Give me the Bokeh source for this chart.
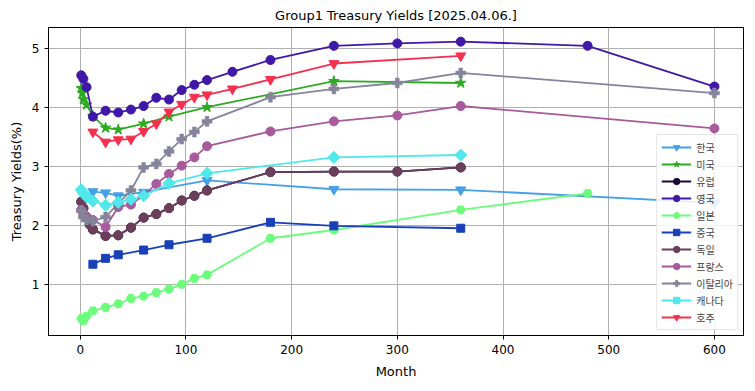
import math
from bokeh.plotting import figure
from bokeh.models import Legend, LegendItem, FixedTicker
from bokeh.embed import file_html
from bokeh.resources import INLINE

# ---------------- data (months to maturity, yield %) ----------------
kr_m = [12, 24, 36, 60, 120, 240, 360, 600]
kr_y = [2.58, 2.56, 2.51, 2.57, 2.77, 2.62, 2.61, 2.39]

us_m = [1, 2, 3, 6, 12, 24, 36, 60, 84, 120, 240, 360]
us_y = [4.33, 4.25, 4.14, 4.05, 3.86, 3.66, 3.63, 3.73, 3.85, 4.01, 4.45, 4.42]

eu_m = [1, 3, 6, 9, 12, 24, 36, 48, 60, 72, 84, 96, 108, 120, 180, 240, 300, 360]
eu_y = [2.41, 2.30, 2.15, 2.02, 1.94, 1.83, 1.84, 1.97, 2.14, 2.20, 2.30, 2.43, 2.51, 2.60, 2.91, 2.92, 2.92, 2.99]

uk_m = [1, 3, 6, 12, 24, 36, 48, 60, 72, 84, 96, 108, 120, 144, 180, 240, 300, 360, 480, 600]
uk_y = [4.55, 4.49, 4.35, 3.85, 3.95, 3.92, 3.97, 4.03, 4.17, 4.14, 4.30, 4.39, 4.47, 4.61, 4.81, 5.05, 5.09, 5.12, 5.05, 4.36]

jp_m = [1, 3, 6, 12, 24, 36, 48, 60, 72, 84, 96, 108, 120, 180, 240, 360, 480]
jp_y = [0.43, 0.39, 0.47, 0.56, 0.62, 0.68, 0.77, 0.81, 0.87, 0.93, 1.01, 1.11, 1.17, 1.79, 1.93, 2.27, 2.55]

cn_m = [12, 24, 36, 60, 84, 120, 180, 240, 360]
cn_y = [1.35, 1.45, 1.51, 1.59, 1.68, 1.79, 2.06, 2.00, 1.96]

de_m = [1, 3, 6, 9, 12, 24, 36, 48, 60, 72, 84, 96, 108, 120, 180, 240, 300, 360]
de_y = [2.41, 2.30, 2.15, 2.02, 1.94, 1.83, 1.84, 1.97, 2.14, 2.20, 2.30, 2.43, 2.51, 2.60, 2.91, 2.92, 2.92, 2.99]

fr_m = [1, 3, 6, 12, 24, 36, 48, 60, 72, 84, 96, 108, 120, 180, 240, 300, 360, 600]
fr_y = [2.27, 2.20, 2.15, 2.10, 1.98, 2.32, 2.36, 2.52, 2.71, 2.88, 3.02, 3.16, 3.35, 3.60, 3.77, 3.87, 4.03, 3.65]

it_m = [1, 3, 6, 12, 24, 36, 48, 60, 72, 84, 96, 108, 120, 180, 240, 300, 360, 600]
it_y = [2.26, 2.15, 2.10, 2.08, 2.15, 2.38, 2.60, 2.99, 3.05, 3.26, 3.47, 3.59, 3.77, 4.18, 4.32, 4.42, 4.59, 4.25]

ca_m = [1, 3, 6, 12, 24, 36, 48, 60, 84, 120, 240, 360]
ca_y = [2.61, 2.55, 2.49, 2.42, 2.35, 2.40, 2.45, 2.51, 2.72, 2.89, 3.16, 3.20]

au_m = [12, 24, 36, 48, 60, 72, 84, 96, 108, 120, 144, 180, 240, 360]
au_y = [3.59, 3.42, 3.46, 3.47, 3.60, 3.73, 3.93, 4.06, 4.18, 4.22, 4.32, 4.48, 4.75, 4.88]

names = ["한국", "미국", "유럽", "영국", "일본", "중국", "독일", "프랑스", "이탈리아", "캐나다", "호주"]
x_ticks = [0, 100, 200, 300, 400, 500, 600]
y_ticks = [1, 2, 3, 4, 5]

series = [
    (kr_m, kr_y, "#45a0e6", "inverted_triangle", 10, 0),
    (us_m, us_y, "#2eaa22", "star", 11, 0),
    (eu_m, eu_y, "#1a0838", "circle", 9, 0),
    (uk_m, uk_y, "#4018a8", "circle", 9, 0),
    (jp_m, jp_y, "#6cfc7c", "hex", 9, 0),
    (cn_m, cn_y, "#1a40b8", "square", 8, 0),
    (de_m, de_y, "#6b3f5a", "circle", 9, 0),
    (fr_m, fr_y, "#a85a9c", "circle", 9, 0),
    (it_m, it_y, "#85849a", "plus", 10, 0),
    (ca_m, ca_y, "#50e8ea", "square", 8.5, 45),
    (au_m, au_y, "#f5304f", "inverted_triangle", 10, 0),
]

p = figure(
    frame_width=695, frame_height=308,
    x_range=(-30, 627.5), y_range=(0.143, 5.36),
    output_backend="svg", toolbar_location=None,
    min_border_left=48, min_border_right=4, min_border_top=27, min_border_bottom=40,
    title="Group1 Treasury Yields [2025.04.06.]",
)
p.title.align = "center"
p.title.text_font = "DejaVu Sans"
p.title.text_font_size = "13px"
p.title.text_font_style = "normal"
p.title.text_color = "#000000"

p.outline_line_color = "#000000"
p.outline_line_width = 1
p.outline_line_alpha = 1

for ax in (p.xaxis, p.yaxis):
    ax.major_label_text_font = "DejaVu Sans"
    ax.major_label_text_font_size = "12px"
    ax.major_label_text_color = "#000000"
    ax.axis_label_text_font = "DejaVu Sans"
    ax.axis_label_text_font_size = "13px"
    ax.axis_label_text_font_style = "normal"
    ax.axis_label_text_color = "#000000"
    ax.minor_tick_line_color = None
    ax.major_tick_out = 4
    ax.major_tick_in = 0
    ax.major_tick_line_color = "#000000"
    ax.axis_line_color = "#000000"

p.xaxis.ticker = FixedTicker(ticks=x_ticks)
p.yaxis.ticker = FixedTicker(ticks=y_ticks)
p.xaxis.axis_label = "Month"
p.yaxis.axis_label = "Treasury Yields(%)"
p.xaxis.axis_label_standoff = 7
p.yaxis.axis_label_standoff = 5

p.xgrid.grid_line_color = "#b0b0b0"
p.ygrid.grid_line_color = "#b0b0b0"
p.xgrid.grid_line_width = 1
p.ygrid.grid_line_width = 1

items = []
for name, (m, y, c, mk, sz, ang) in zip(names, series):
    r1 = p.line(m, y, line_color=c, line_width=1.8)
    r2 = p.scatter(m, y, marker=mk, size=sz, angle=ang, angle_units="deg",
                   fill_color=c, line_color=c,
                   line_width=1 if mk != "plus" else 0.5)
    items.append(LegendItem(label=name, renderers=[r1, r2]))

legend = Legend(items=items, location="bottom_right")
legend.label_text_font = "Noto Sans CJK KR"
legend.label_text_font_size = "10px"
legend.label_height = 16
legend.glyph_height = 16
legend.glyph_width = 30
legend.spacing = 1
legend.padding = 4
legend.margin = 5
legend.border_line_color = "#cccccc"
legend.border_line_width = 1
legend.background_fill_alpha = 0.85
p.add_layout(legend)

open("out.html", "w").write(file_html(p, INLINE))
